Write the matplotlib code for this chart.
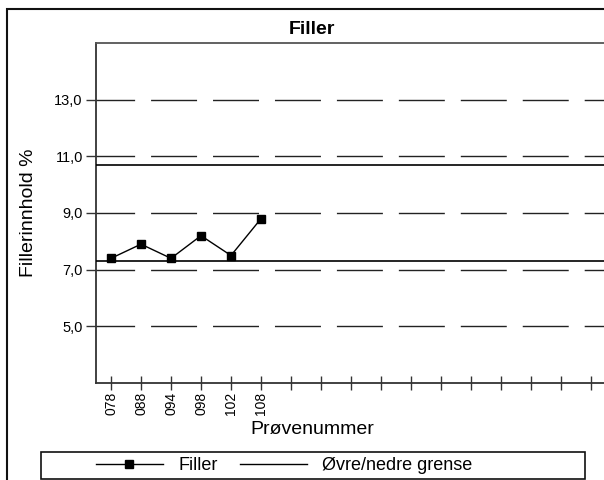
import matplotlib
matplotlib.use("Agg")
import matplotlib.pyplot as plt
from matplotlib.lines import Line2D
from matplotlib.patches import Rectangle
import numpy as np

plt.rcParams['font.family'] = ['Liberation Sans', 'DejaVu Sans']

# Data
samples = ["078", "088", "094", "098", "102", "108"]
filler = [7.4, 7.9, 7.4, 8.2, 7.5, 8.8]
upper_limit = 10.7
lower_limit = 7.3
n_slots = 17
y_ticks = [5.0, 7.0, 9.0, 11.0, 13.0]

W, H = 604, 480
fig = plt.figure(figsize=(W / 100, H / 100), dpi=100)

left_px, top_px, bottom_px = 96, 43, 383
ax_w_px = W - left_px
ax_h_px = bottom_px - top_px
ax = fig.add_axes([left_px / W, 1 - bottom_px / H, ax_w_px / W, ax_h_px / H])

x = np.arange(len(samples)) + 0.5
ax.plot(x, filler, color='black', lw=1.0, marker='s', markersize=5.5, zorder=5)
ax.axhline(upper_limit, color='black', lw=1.2, zorder=4)
ax.axhline(lower_limit, color='black', lw=1.2, zorder=4)

ax.set_ylim(3, 15)
ax.set_xlim(0, ax_w_px / 30.0)

ax.set_yticks(y_ticks)
ax.set_yticklabels([f"{v:.1f}".replace('.', ',') for v in y_ticks], fontsize=10.5)
ax.grid(axis='y', color='#222222', lw=1.0, linestyle=(5.3, (33.1, 11.5)))
ax.set_axisbelow(True)

slots = np.arange(n_slots) + 0.5
ax.set_xticks(slots)
ax.set_xticklabels(samples + [""] * (n_slots - len(samples)), rotation=90, fontsize=10)

ax.tick_params(axis='y', direction='out', length=7, width=1.0, color='#333333', pad=2.5)
ax.tick_params(axis='x', direction='inout', length=10, width=1.0, color='#333333', pad=1.5)

for side in ['left', 'bottom']:
    ax.spines[side].set_color('#333333')
    ax.spines[side].set_linewidth(1.3)
ax.spines['top'].set_color('#555555')
ax.spines['top'].set_linewidth(1.3)
ax.spines['right'].set_visible(False)

ax.set_ylabel("Fillerinnhold %", fontsize=14)
ax.yaxis.set_label_coords(-(left_px - 37) / ax_w_px, 0.5)
ax.set_xlabel("Prøvenummer", fontsize=14)
ax.xaxis.set_label_coords((312 - left_px) / ax_w_px, -(421 - bottom_px) / ax_h_px)

fig.text(312 / W, 1 - 30 / H, "Filler", fontsize=14, fontweight='bold', ha='center', va='center')

# Outer frame (top and left visible)
fig.patches.append(Rectangle((7 / W, -0.2), 1.5, 1.2 - 9 / H, transform=fig.transFigure,
                             fill=False, edgecolor='#111111', lw=1.5))

# Legend frame
fig.patches.append(Rectangle((41 / W, 1 - 479 / H), (585 - 41) / W, (479 - 452) / H,
                             transform=fig.transFigure, fill=False, edgecolor='#111111', lw=1.2))
handles = [Line2D([], [], color='black', lw=1.0, marker='s', markersize=5.5),
           Line2D([], [], color='black', lw=1.0)]
fig.legend(handles, ["Filler", "Øvre/nedre grense"], loc='center left',
           bbox_to_anchor=(96 / W, 1 - 465.5 / H), ncol=2, frameon=False,
           fontsize=13, handlelength=3.7, handletextpad=0.85, columnspacing=1.25,
           borderpad=0, borderaxespad=0)

fig.savefig("out.png", dpi=100)
